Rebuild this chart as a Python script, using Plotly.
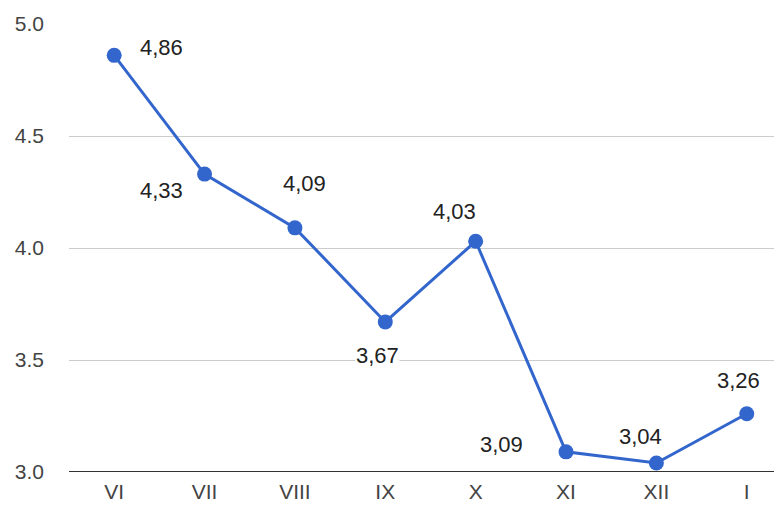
import plotly.graph_objects as go

months = ["VI", "VII", "VIII", "IX", "X", "XI", "XII", "I"]
values = [4.86, 4.33, 4.09, 3.67, 4.03, 3.09, 3.04, 3.26]
labels = ["4,86", "4,33", "4,09", "3,67", "4,03", "3,09", "3,04", "3,26"]
y_ticks = [3.0, 3.5, 4.0, 4.5, 5.0]
y_tick_text = ["3.0", "3.5", "4.0", "4.5", "5.0"]

# label offsets (pixels) relative to each point (style only)
label_dx = [47, -43, 10, -8, -21, -65, -16, -8]
label_dy = [8, -16, 44, -34, 30, 7, 27, 33]

FONT = "Liberation Sans, Arial, sans-serif"

fig = go.Figure()
fig.add_trace(go.Scatter(
    x=months, y=values, mode="lines+markers",
    line=dict(color="#3366cc", width=3),
    marker=dict(color="#3366cc", size=15),
    hoverinfo="skip", cliponaxis=False,
))

for m, v, t, dx, dy in zip(months, values, labels, label_dx, label_dy):
    fig.add_annotation(x=m, y=v, text=t, showarrow=False,
                       xshift=dx, yshift=dy, bgcolor="white", borderpad=0,
                       font=dict(family=FONT, size=22, color="#222222"))

fig.update_layout(
    width=774, height=498,
    margin=dict(l=61, r=0, t=16, b=34),
    paper_bgcolor="white", plot_bgcolor="white",
    showlegend=False,
    font=dict(family=FONT, size=21, color="#444444"),
)
fig.update_xaxes(range=[-0.5, 7.39], showgrid=False, ticks="", showline=False,
                 ticklabelstandoff=5,
                 tickfont=dict(family=FONT, size=21, color="#444444"))
fig.update_yaxes(range=[3.0, 5.0], tickvals=y_ticks, ticktext=y_tick_text,
                 showgrid=True, gridcolor="#cccccc", gridwidth=1,
                 zeroline=False, showline=False, ticks="", ticklabelstandoff=24,
                 tickfont=dict(family=FONT, size=21, color="#444444"))
fig.add_shape(type="line", xref="paper", yref="y", x0=0, x1=1, y0=3.0, y1=3.0,
              line=dict(color="#333333", width=2), layer="below")

fig.write_html("out.html")
